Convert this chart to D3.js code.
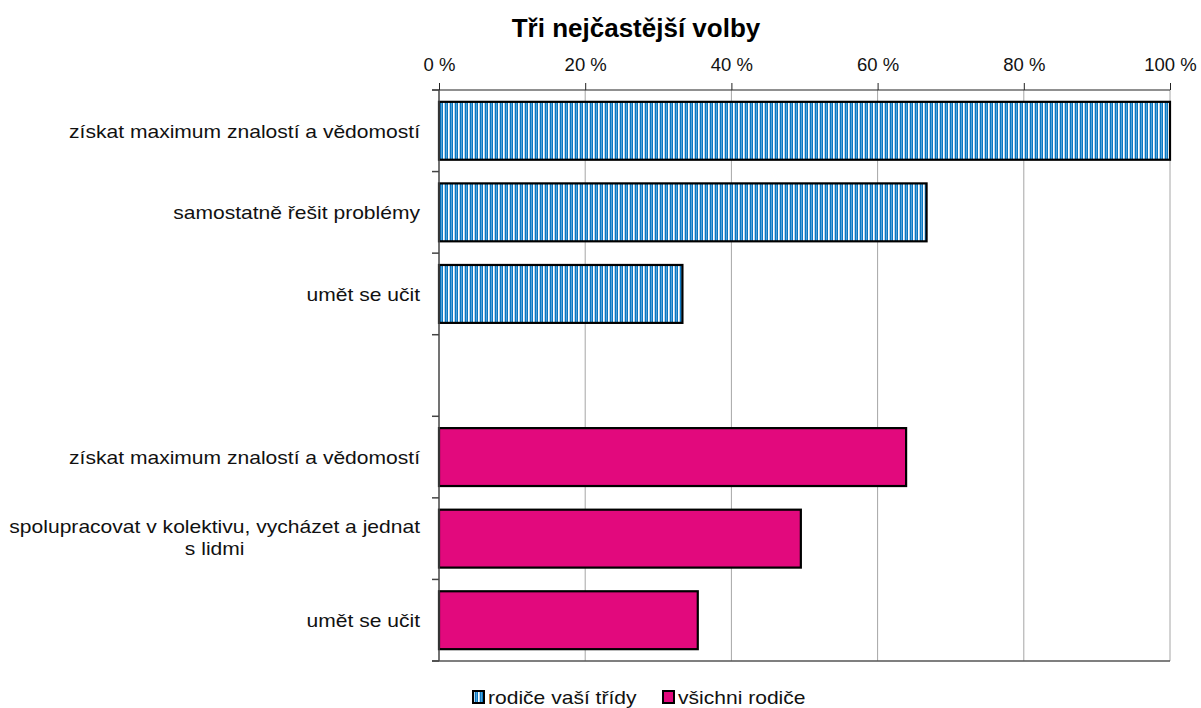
<!DOCTYPE html>
<html><head><meta charset="utf-8">
<script src="https://cdn.jsdelivr.net/npm/d3@7"></script>
<style>body{margin:0;background:#fff}svg{font-family:"Liberation Sans",Arial,sans-serif}</style>
</head><body>
<svg id="c" width="1201" height="708"></svg>
<script>
const title = "Tři nejčastější volby";
const categories = [
  "získat maximum znalostí a vědomostí|a",
  "samostatně řešit problémy|a",
  "umět se učit|a",
  "gap",
  "získat maximum znalostí a vědomostí|b",
  "spolupracovat v kolektivu, vycházet a jednat\ns lidmi|b",
  "umět se učit|b"
];
const seriesNames = ["rodiče vaší třídy", "všichni rodiče"];
const classValues = [100, 66.7, 33.3];
const allValues = [63.9, 49.5, 35.4];
const xTicks = [0, 20, 40, 60, 80, 100];

const data = [
  {cat: categories[0], v: classValues[0], s: 0},
  {cat: categories[1], v: classValues[1], s: 0},
  {cat: categories[2], v: classValues[2], s: 0},
  {cat: categories[4], v: allValues[0], s: 1},
  {cat: categories[5], v: allValues[1], s: 1},
  {cat: categories[6], v: allValues[2], s: 1}
];

const svg = d3.select("#c");
const L = 439, R = 1170, T = 90, B = 661;
const SX = 1.17; // horizontal text stretch
const x = d3.scaleLinear().domain([0, 100]).range([L, R]);
const y = d3.scaleBand().domain(categories).range([T, B]).paddingInner(0.29).paddingOuter(0.145);
const band = (B - T) / categories.length;

const defs = svg.append("defs");
const pat = defs.append("pattern").attr("id", "stripe").attr("patternUnits", "userSpaceOnUse")
  .attr("width", 5).attr("height", 10);
pat.append("rect").attr("width", 5).attr("height", 10).attr("fill", "#0a78c2");
pat.append("rect").attr("x", 3).attr("width", 1.7).attr("height", 10).attr("fill", "#ffffff");
pat.append("rect").attr("x", 1).attr("width", 0.7).attr("height", 10).attr("fill", "#6fb3e0");

const colors = ["url(#stripe)", "#e2097d"];

function stext(g, px, py, str, anchor, size) {
  return g.append("text").attr("transform", `translate(${px},${py}) scale(${SX},1)`)
    .attr("text-anchor", anchor).attr("font-size", size).text(str);
}

// gridlines
svg.append("g").selectAll("line").data(xTicks.slice(1)).join("line")
  .attr("x1", d => x(d)).attr("x2", d => x(d)).attr("y1", T).attr("y2", B)
  .attr("stroke", "#a6a6a6").attr("stroke-width", 1);

// top axis
const ax = svg.append("g").attr("transform", `translate(0,${T})`)
  .call(d3.axisTop(x).tickValues(xTicks).tickSize(7).tickPadding(0).tickFormat(d => d + " %"));
ax.select(".domain").remove();
ax.selectAll(".tick line").attr("stroke", "#222");
ax.selectAll(".tick text").attr("y", -19.3).attr("dy", 0).attr("font-size", 18.5).attr("fill", "#111")
  .style("font-family", "'Liberation Sans',Arial,sans-serif");
svg.append("line").attr("x1", L - 7).attr("x2", R).attr("y1", T).attr("y2", T).attr("stroke", "#222").attr("stroke-width", 1.2);

// bars
svg.append("g").selectAll("rect").data(data).join("rect")
  .attr("x", x(0)).attr("y", d => y(d.cat)).attr("width", d => x(d.v) - x(0)).attr("height", y.bandwidth())
  .attr("fill", d => colors[d.s]).attr("stroke", "#000").attr("stroke-width", 2.2);

// left axis
svg.append("line").attr("x1", L).attr("x2", L).attr("y1", T).attr("y2", B).attr("stroke", "#444").attr("stroke-width", 1.5);
svg.append("line").attr("x1", L - 7).attr("x2", R).attr("y1", B).attr("y2", B).attr("stroke", "#555").attr("stroke-width", 1.5);
const bounds = d3.range(categories.length + 1).map(i => T + i * band);
svg.append("g").selectAll("line").data(bounds).join("line")
  .attr("x1", L - 7).attr("x2", L).attr("y1", d => d).attr("y2", d => d).attr("stroke", "#444").attr("stroke-width", 1.5);

// category labels
const lab = svg.append("g").attr("fill", "#111");
categories.forEach(c => {
  if (c === "gap") return;
  const name = c.split("|")[0];
  const lines = name.split("\n");
  const cy = y(c) + y.bandwidth() / 2;
  if (lines.length === 1) {
    stext(lab, 420, cy + 7, lines[0], "end", 18);
  } else {
    const t1 = stext(lab, 420, cy - 5.6, lines[0], "end", 18);
    const w = t1.node().getComputedTextLength() * SX;
    stext(lab, 420 - w / 2, cy + 16.4, lines[1], "middle", 18);
  }
});

// title
svg.append("text").attr("x", 636).attr("y", 37).attr("text-anchor", "middle")
  .attr("font-size", 26).attr("font-weight", "bold").attr("fill", "#000").text(title);

// legend
const leg = svg.append("g").attr("fill", "#111");
const legX = [473, 663];
seriesNames.forEach((n, i) => {
  leg.append("rect").attr("x", legX[i]).attr("y", 691).attr("width", 11).attr("height", 12)
    .attr("fill", colors[i]).attr("stroke", "#000").attr("stroke-width", 2);
  stext(leg, legX[i] + 15, 703.5, n, "start", 18);
});
</script>
</body></html>
